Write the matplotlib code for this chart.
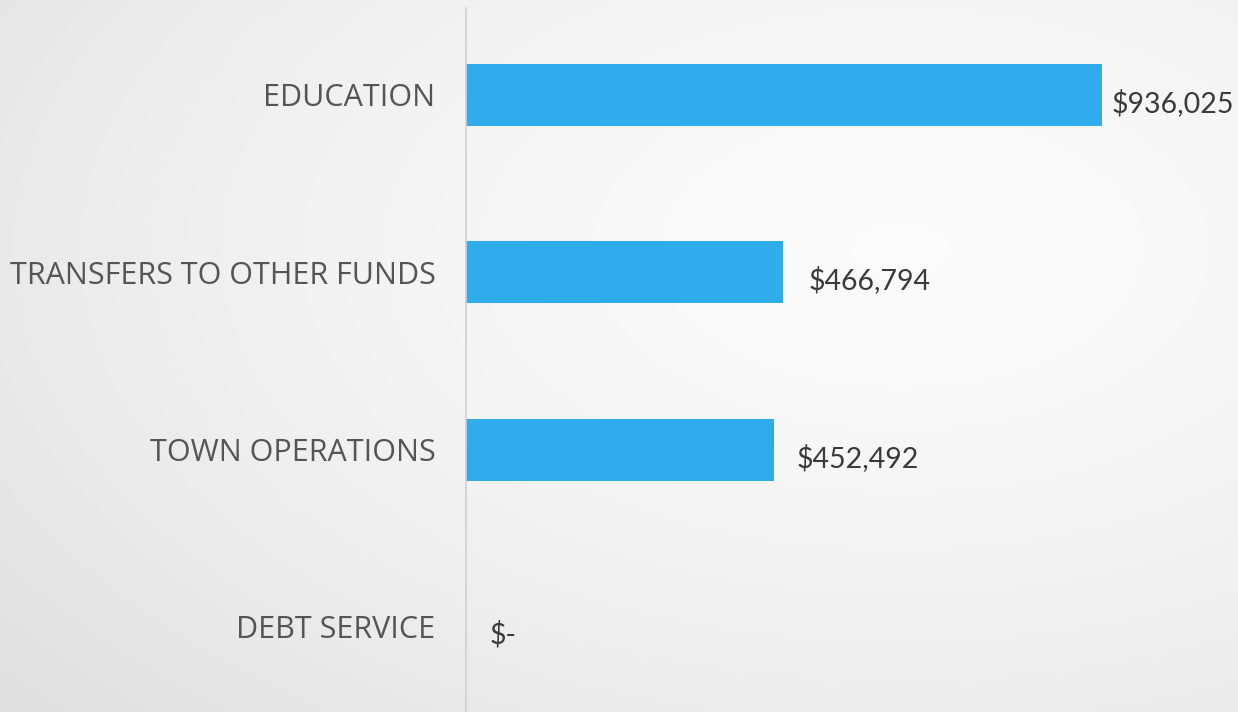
import numpy as np
import matplotlib
matplotlib.use("Agg")
import matplotlib.pyplot as plt

categories = ["EDUCATION", "TRANSFERS TO OTHER FUNDS", "TOWN OPERATIONS", "DEBT SERVICE"]
values = [936025, 466794, 452492, 0]
value_labels = ["$936,025", "$466,794", "$452,492", "$-"]

W, H = 1238, 712
fig = plt.figure(figsize=(W / 100, H / 100), dpi=100)

# background radial gradient
bg = fig.add_axes([0, 0, 1, 1], zorder=-10)
yy, xx = np.mgrid[0:H, 0:W]
cx, cy = 900, 250
r = np.sqrt(((xx - cx) / W) ** 2 + ((yy - cy) / H) ** 2)
r = r / r.max()
shade = 0.985 - 0.11 * r ** 1.6
img = np.dstack([shade, shade, shade])
bg.imshow(img, aspect="auto", extent=[0, 1, 0, 1], origin="upper")
bg.set_axis_off()

ax = fig.add_axes([466 / W, 0, (W - 466) / W, (H - 8) / H])
ax.patch.set_alpha(0)
y = np.arange(len(categories))
ax.barh(y, values, height=0.35, color="#2FACEB")
ax.set_ylim(3.48, -0.49)
ax.set_xlim(0, 1136000)
ax.set_yticks(y)
ax.set_yticklabels(categories, fontsize=22, color="#555555", family="Open Sans")
ax.tick_params(axis="y", length=0, pad=22)
ax.set_xticks([])
for s in ["top", "right", "bottom"]:
    ax.spines[s].set_visible(False)
ax.spines["left"].set_color("#d0d0d0")
ax.spines["left"].set_linewidth(1.2)

offsets = [7, 18, 17, 17]
for yi, v, lab, off in zip(y, values, value_labels, offsets):
    ax.annotate(lab, xy=(v, yi), xytext=(off, -6), textcoords="offset points",
                ha="left", va="center", fontsize=20.5, color="#3a3a3a", family="Lato")

fig.savefig("out.png", dpi=100)
